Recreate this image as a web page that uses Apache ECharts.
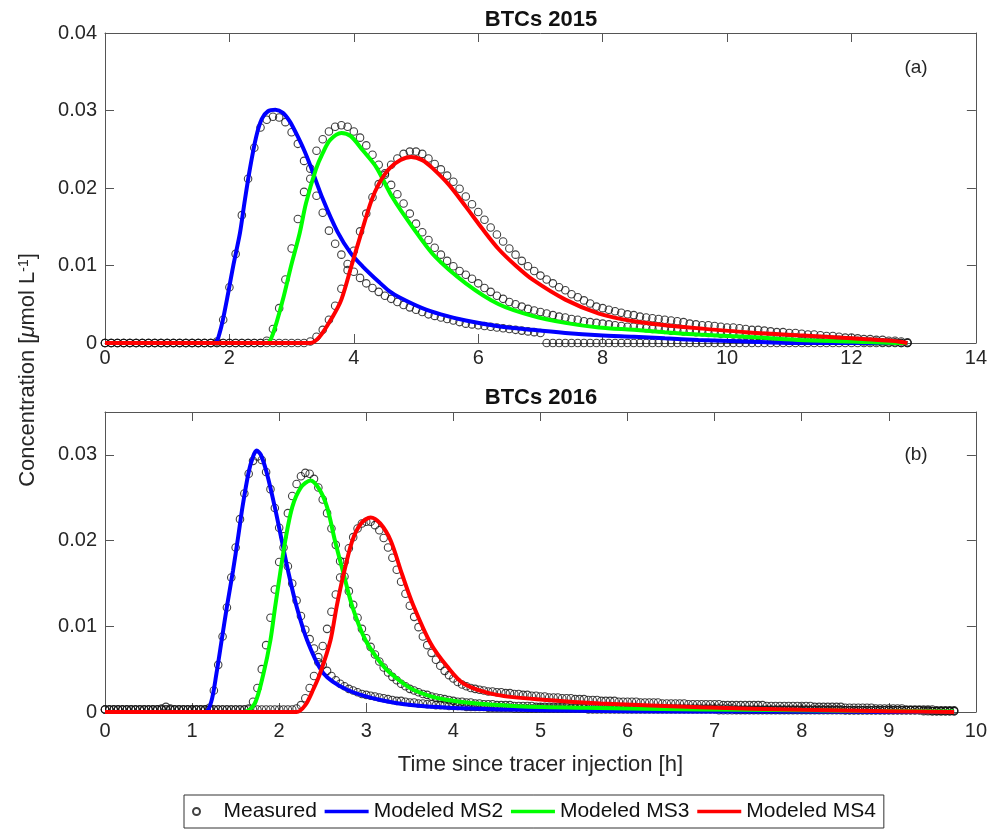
<!DOCTYPE html>
<html>
<head>
<meta charset="utf-8">
<title>BTCs 2015 / 2016</title>
<script src="https://cdn.jsdelivr.net/npm/echarts@6/dist/echarts.min.js"></script>
<style>
  html, body { margin: 0; padding: 0; background: #fff; }
  #main { width: 990px; height: 830px; }
</style>
</head>
<body>
<div id="main"></div>
<script>
// concentrations below are in 1e-4 umol/L, converted when the series are built

// --- 2015, measured every 0.1 h ---
let t15 = [
  0,0.1,0.2,0.3,0.4,0.5,0.6,0.7,0.8,0.9,1,1.1,1.2,1.3,1.4,1.5,1.6,1.7,1.8,1.9,
  2,2.1,2.2,2.3,2.4,2.5,2.6,2.7,2.8,2.9,3,3.1,3.2,3.3,3.4,3.5,3.6,3.7,3.8,3.9,
  4,4.1,4.2,4.3,4.4,4.5,4.6,4.7,4.8,4.9,5,5.1,5.2,5.3,5.4,5.5,5.6,5.7,5.8,5.9,
  6,6.1,6.2,6.3,6.4,6.5,6.6,6.7,6.8,6.9,7,7.1,7.2,7.3,7.4,7.5,7.6,7.7,7.8,7.9,
  8,8.1,8.2,8.3,8.4,8.5,8.6,8.7,8.8,8.9,9,9.1,9.2,9.3,9.4,9.5,9.6,9.7,9.8,9.9,
  10,10.1,10.2,10.3,10.4,10.5,10.6,10.7,10.8,10.9,11,11.1,11.2,11.3,11.4,11.5,11.6,11.7,11.8,11.9,
  12,12.1,12.2,12.3,12.4,12.5,12.6,12.7,12.8,12.9
];
let meas15MS2 = [
  0,0,0,0,0,0,0,0,0,0,0,0,0,0,0,0,0,0,2,30,
  72,115,165,212,252,278,288,292,291,285,272,257,235,212,190,168,145,128,114,102,
  92,84,77,71,66,61,57,53,49,46,43,40,37,35,33,31,29,27,25,24,
  23,22,21,20,19,18,17,16,15,14,13,0,0,0,0,0,0,0,0,0,
  0,0,0,0,0,0,0,0,0,0,0,0,0,0,0,0,0,0,0,0,
  0,0,0,0,0,0,0,0,0,0,0,0,0,0,0,0,0,0,0,0,
  0,0,0,0,0,0,0,0,0,0
];
let meas15MS3 = [
  0,0,0,0,0,0,0,0,0,0,0,0,0,0,0,0,0,0,0,0,
  0,0,0,0,0,0,3,18,45,82,122,160,195,225,248,263,273,279,281,279,
  273,265,255,243,230,217,204,192,180,167,154,143,133,123,114,106,99,93,88,83,
  77,71,66,61,57,53,50,47,44,42,40,38,36,34,33,31,30,28,27,26,
  25,24,23,22,21,21,20,19,18,18,17,16,16,15,15,14,14,13,13,12,
  12,11,11,10,10,9,9,8,8,7,7,7,6,6,5,5,5,4,4,3,
  3,3,2,2,2,1,1,1,0,0
];
let meas15MS4 = [
  0,0,0,0,0,0,0,0,0,0,0,0,0,0,0,0,0,0,0,0,
  0,0,0,0,0,0,0,0,0,0,0,0,0,2,8,17,30,48,70,94,
  119,144,167,188,205,219,230,238,244,247,247,244,238,231,224,216,208,199,189,179,
  169,159,149,140,131,122,114,106,99,93,87,82,77,72,68,63,59,55,51,47,
  45,43,41,39,37,36,34,33,32,31,30,29,28,27,25,24,23,23,22,21,
  20,20,19,18,17,17,16,15,14,14,13,13,12,11,11,10,9,9,8,7,
  7,6,5,5,4,4,3,3,2,1
];
// modeled curves 2015, [h, conc]
let model15MS2 = [
  [0,0],[1.75,0],[1.85,15],[1.96,56],[2.06,99],[2.17,142],[2.24,180],[2.33,225],[2.43,266],
  [2.52,289],[2.62,299],[2.74,301],[2.86,297],[2.97,286],[3.07,271],[3.2,249],[3.31,227],
  [3.5,186],[3.74,143],[3.95,116],[4.14,99],[4.4,79],[4.57,67],[4.73,59],[5.1,45],[5.4,37],
  [5.8,29],[6.3,22],[6.87,17],[7.4,13],[7.94,10],[8.5,8],[9,6],[9.54,4],[10.3,2],[11.1,0],[12.9,0]
];
let model15MS3 = [
  [0,0],[2.6,0],[2.7,12],[2.86,56],[2.99,99],[3.13,142],[3.23,180],[3.39,224],[3.5,245],
  [3.62,262],[3.8,271],[3.95,267],[4.14,249],[4.36,227],[4.62,188],[4.94,150],[5.3,112],
  [5.8,77],[6.33,50],[6.87,35],[7.4,26],[7.94,20],[8.5,17],[9,14],[9.54,11],[10.3,8],
  [11.14,4],[12,2],[12.8,0],[12.9,0]
];
let model15MS4 = [
  [0,0],[3.3,0],[3.45,8],[3.66,34],[3.8,56],[3.96,99],[4.12,142],[4.28,183],[4.4,205],
  [4.57,225],[4.75,236],[4.92,240],[5.1,236],[5.26,226],[5.53,204],[5.8,176],[6.07,147],
  [6.33,121],[6.6,100],[6.87,82],[7.4,56],[7.94,38],[8.5,28],[9,23],[9.54,19],[10.3,14],
  [11.14,10],[12,6],[12.75,2],[12.9,0]
];

// --- 2016, measured every 0.05 h ---
let t16 = [
  0,0.05,0.1,0.15,0.2,0.25,0.3,0.35,0.4,0.45,0.5,0.55,0.6,0.65,0.7,0.75,0.8,0.85,0.9,0.95,
  1,1.05,1.1,1.15,1.2,1.25,1.3,1.35,1.4,1.45,1.5,1.55,1.6,1.65,1.7,1.75,1.8,1.85,1.9,1.95,
  2,2.05,2.1,2.15,2.2,2.25,2.3,2.35,2.4,2.45,2.5,2.55,2.6,2.65,2.7,2.75,2.8,2.85,2.9,2.95,
  3,3.05,3.1,3.15,3.2,3.25,3.3,3.35,3.4,3.45,3.5,3.55,3.6,3.65,3.7,3.75,3.8,3.85,3.9,3.95,
  4,4.05,4.1,4.15,4.2,4.25,4.3,4.35,4.4,4.45,4.5,4.55,4.6,4.65,4.7,4.75,4.8,4.85,4.9,4.95,
  5,5.05,5.1,5.15,5.2,5.25,5.3,5.35,5.4,5.45,5.5,5.55,5.6,5.65,5.7,5.75,5.8,5.85,5.9,5.95,
  6,6.05,6.1,6.15,6.2,6.25,6.3,6.35,6.4,6.45,6.5,6.55,6.6,6.65,6.7,6.75,6.8,6.85,6.9,6.95,
  7,7.05,7.1,7.15,7.2,7.25,7.3,7.35,7.4,7.45,7.5,7.55,7.6,7.65,7.7,7.75,7.8,7.85,7.9,7.95,
  8,8.05,8.1,8.15,8.2,8.25,8.3,8.35,8.4,8.45,8.5,8.55,8.6,8.65,8.7,8.75,8.8,8.85,8.9,8.95,
  9,9.05,9.1,9.15,9.2,9.25,9.3,9.35,9.4,9.45,9.5,9.55,9.6,9.65,9.7,9.75
];
let meas16MS2 = [
  3,3,3,3,3,3,3,3,3,3,3,3,3,4,6,4,3,3,3,3,
  3,3,3,3,5,25,55,88,122,157,192,225,255,278,293,298,294,280,260,238,
  215,192,170,150,130,112,96,85,74,64,55,48,42,37,33,30,27,25,23,21,
  20,19,18,17,16,15,14,13,13,12,11,11,10,10,9,9,8,8,8,7,
  7,7,7,6,6,6,6,6,5,5,5,5,5,5,4,4,4,4,4,4,
  4,4,4,4,4,4,4,4,4,4,4,3,3,3,3,3,3,3,3,3,
  3,3,3,3,3,3,3,3,3,3,3,3,3,3,3,3,3,3,3,3,
  3,2,2,2,2,2,2,2,2,2,2,2,2,2,2,2,2,2,2,2,
  2,2,2,2,2,2,2,2,2,2,2,2,2,2,2,2,2,2,2,2,
  2,2,2,2,2,2,2,2,2,2,1,1,1,1,1,1
];
let meas16MS3 = [
  3,3,3,3,3,3,3,3,3,3,3,3,3,3,3,3,3,3,3,3,
  3,3,3,3,3,3,3,3,3,3,3,3,3,4,12,28,50,78,110,143,
  175,205,232,252,266,275,279,278,272,262,248,232,214,195,176,158,141,125,110,97,
  86,76,67,59,52,46,41,37,33,30,27,25,23,21,20,18,17,16,15,14,
  13,12,12,11,11,10,10,9,9,9,8,8,8,8,7,7,7,7,7,6,
  6,6,6,6,6,6,6,5,5,5,5,5,5,5,5,5,5,5,4,4,
  4,4,4,4,4,4,4,4,4,4,4,4,4,4,4,4,4,4,4,4,
  4,4,4,4,4,3,3,3,3,3,3,3,3,3,3,3,3,3,3,3,
  3,3,3,3,3,3,3,3,3,3,2,2,2,2,2,2,2,2,2,2,
  2,2,2,2,2,2,2,2,1,1,1,1,1,1,1,1
];
let meas16MS4 = [
  3,3,3,3,3,3,3,3,3,3,3,3,3,3,3,3,3,3,3,3,
  3,3,3,3,3,3,3,3,3,3,3,3,3,3,3,3,3,3,3,3,
  3,3,3,3,4,8,16,28,42,58,77,97,117,137,157,175,191,204,214,220,
  222,222,218,212,203,192,180,166,152,138,124,111,99,88,78,69,61,54,48,43,
  39,35,32,30,28,27,26,25,24,24,23,23,22,22,21,21,20,20,19,19,
  18,18,17,17,17,16,16,16,15,15,15,14,14,14,13,13,13,13,12,12,
  12,12,12,11,11,11,11,11,10,10,10,10,10,10,9,9,9,9,9,9,
  9,9,8,8,8,8,8,8,8,8,8,8,7,7,7,7,7,7,7,7,
  7,7,7,6,6,6,6,6,6,6,5,5,5,5,5,5,5,4,4,4,
  4,4,4,4,3,3,3,3,3,3,3,2,2,2,2,2
];
let model16MS2 = [
  [0,0],[1.15,0],[1.22,12],[1.28,45],[1.34,84],[1.4,123],[1.47,165],[1.53,205],[1.58,240],
  [1.65,280],[1.7,298],[1.74,305],[1.79,300],[1.86,278],[1.95,239],[2.03,200],[2.11,161],
  [2.2,123],[2.32,84],[2.51,45],[2.78,26],[3.16,14],[3.54,8],[4.2,4],[5,2],[6,1],[7.5,0.5],[9.75,0]
];
let model16MS3 = [
  [0,0],[1.6,0],[1.72,10],[1.82,45],[1.9,84],[1.95,120],[2.01,161],[2.07,200],[2.15,239],
  [2.25,262],[2.36,270],[2.46,260],[2.55,239],[2.64,200],[2.74,161],[2.84,123],[2.99,84],
  [3.16,58],[3.28,45],[3.54,26],[3.93,14],[4.69,7],[5.5,5],[6.84,3],[8.5,1.5],[9.75,0.5]
];
let model16MS4 = [
  [0,0],[2.2,0],[2.3,8],[2.39,26],[2.47,45],[2.59,84],[2.66,123],[2.74,161],[2.84,200],
  [2.94,220],[3.05,227],[3.16,220],[3.28,200],[3.41,161],[3.53,127],[3.74,80],[3.93,53],
  [4.12,33],[4.5,20],[5.08,14],[5.69,10],[6.84,5.5],[8,2.5],[9,1],[9.75,0]
];

let FONT = '"Liberation Sans", Arial, sans-serif';
let AXIS_COLOR = '#555';
let TXT = '#262626';

function zipTimes(times, vals) {
  return times.map(function (t, i) { return [t, vals[i] / 1e4]; });
}
function toConc(points) {
  return points.map(function (p) { return [p[0], p[1] / 1e4]; });
}

function xAx(grid, max, interval, pos, labelMargin) {
  return {
    type: 'value', gridIndex: grid, position: pos,
    min: 0, max: max, interval: interval,
    axisLine: { show: true, onZero: false, lineStyle: { color: AXIS_COLOR, width: 1 } },
    axisTick: { show: true, inside: true, length: 9, lineStyle: { color: AXIS_COLOR } },
    axisLabel: { show: pos === 'bottom', margin: labelMargin, fontSize: 20, color: TXT, fontFamily: FONT },
    splitLine: { show: false }
  };
}
function yAx(grid, max, pos) {
  return {
    type: 'value', gridIndex: grid, position: pos,
    min: 0, max: max, interval: 0.01,
    axisLine: { show: true, onZero: false, lineStyle: { color: AXIS_COLOR, width: 1 } },
    axisTick: { show: true, inside: true, length: 9, lineStyle: { color: AXIS_COLOR } },
    axisLabel: {
      show: pos === 'left', margin: 8, fontSize: 20, color: TXT, fontFamily: FONT,
      showMaxLabel: max === 0.04,
      formatter: function (v) {
        let r = Math.round(v * 100) / 100;
        if (Math.abs(r - v) > 1e-9) return '';
        return r === 0 ? '0' : String(r);
      }
    },
    splitLine: { show: false }
  };
}

function measured(data, xi, yi) {
  return {
    name: 'Measured', type: 'scatter', xAxisIndex: xi, yAxisIndex: yi,
    data: data, symbol: 'circle', symbolSize: 7.5,
    itemStyle: { color: 'rgba(0,0,0,0)', borderColor: '#111', borderWidth: 1.1 },
    z: 2
  };
}
function modeled(name, color, data, xi, yi) {
  return {
    name: name, type: 'line', xAxisIndex: xi, yAxisIndex: yi,
    data: data, symbol: 'none', smooth: 0.3,
    lineStyle: { color: color, width: 4 },
    itemStyle: { color: color },
    z: 3
  };
}

let chart = echarts.init(document.getElementById('main'), null, { renderer: 'canvas' });

let option = {
  animation: false,
  backgroundColor: '#fff',
  grid: [
    { left: 105, top: 33, width: 872, height: 310 },
    { left: 105, top: 412, width: 872, height: 300 }
  ],
  xAxis: [
    xAx(0, 14, 2, 'bottom', 5),
    xAx(0, 14, 2, 'top', 5),
    Object.assign(xAx(1, 10, 1, 'bottom', 9), {
      name: 'Time since tracer injection [h]',
      nameLocation: 'middle', nameGap: 42,
      nameTextStyle: { fontSize: 22, color: TXT, fontFamily: FONT }
    }),
    xAx(1, 10, 1, 'top', 9)
  ],
  yAxis: [
    yAx(0, 0.04, 'left'),
    yAx(0, 0.04, 'right'),
    yAx(1, 0.035, 'left'),
    yAx(1, 0.035, 'right')
  ],
  legend: {
    left: 184, top: 795,
    data: [
      { name: 'Measured', icon: 'circle' },
      { name: 'Modeled MS2', itemStyle: { opacity: 0 } },
      { name: 'Modeled MS3', itemStyle: { opacity: 0 } },
      { name: 'Modeled MS4', itemStyle: { opacity: 0 } }
    ],
    itemWidth: 44, itemHeight: 7, itemGap: 6,
    padding: [6, 8],
    lineStyle: { width: 3.5 },
    borderColor: '#333', borderWidth: 1, borderRadius: 0,
    textStyle: { fontSize: 21, color: '#111', fontFamily: FONT }
  },
  graphic: [
    {
      type: 'text', x: 541, y: 20,
      style: { text: 'BTCs 2015', font: 'bold 22px ' + FONT, fill: '#111', align: 'center', verticalAlign: 'middle' }
    },
    {
      type: 'text', x: 541, y: 398,
      style: { text: 'BTCs 2016', font: 'bold 22px ' + FONT, fill: '#111', align: 'center', verticalAlign: 'middle' }
    },
    {
      type: 'text', x: 916, y: 68,
      style: { text: '(a)', font: '19px ' + FONT, fill: TXT, align: 'center', verticalAlign: 'middle' }
    },
    {
      type: 'text', x: 916, y: 455,
      style: { text: '(b)', font: '19px ' + FONT, fill: TXT, align: 'center', verticalAlign: 'middle' }
    },
    {
      type: 'text', x: 28, y: 370, rotation: Math.PI / 2,
      style: {
        text: '{a|Concentration [}{b|\u03bc}{a|mol L}{c|-1}{a|]}',
        align: 'center', verticalAlign: 'middle', fill: TXT,
        rich: {
          a: { font: '22px ' + FONT, fill: TXT },
          b: { font: 'italic 22px ' + FONT, fill: TXT },
          c: { font: '14px ' + FONT, fill: TXT, verticalAlign: 'top' }
        }
      }
    }
  ],
  series: [
    measured(zipTimes(t15, meas15MS2), 0, 0),
    measured(zipTimes(t15, meas15MS3), 0, 0),
    measured(zipTimes(t15, meas15MS4), 0, 0),
    measured(zipTimes(t16, meas16MS2), 2, 2),
    measured(zipTimes(t16, meas16MS3), 2, 2),
    measured(zipTimes(t16, meas16MS4), 2, 2),
    modeled('Modeled MS2', '#0000ff', toConc(model15MS2), 0, 0),
    modeled('Modeled MS3', '#00ff00', toConc(model15MS3), 0, 0),
    modeled('Modeled MS4', '#ff0000', toConc(model15MS4), 0, 0),
    modeled('Modeled MS2', '#0000ff', toConc(model16MS2), 2, 2),
    modeled('Modeled MS3', '#00ff00', toConc(model16MS3), 2, 2),
    modeled('Modeled MS4', '#ff0000', toConc(model16MS4), 2, 2)
  ]
};

chart.setOption(option);
</script>
</body>
</html>
